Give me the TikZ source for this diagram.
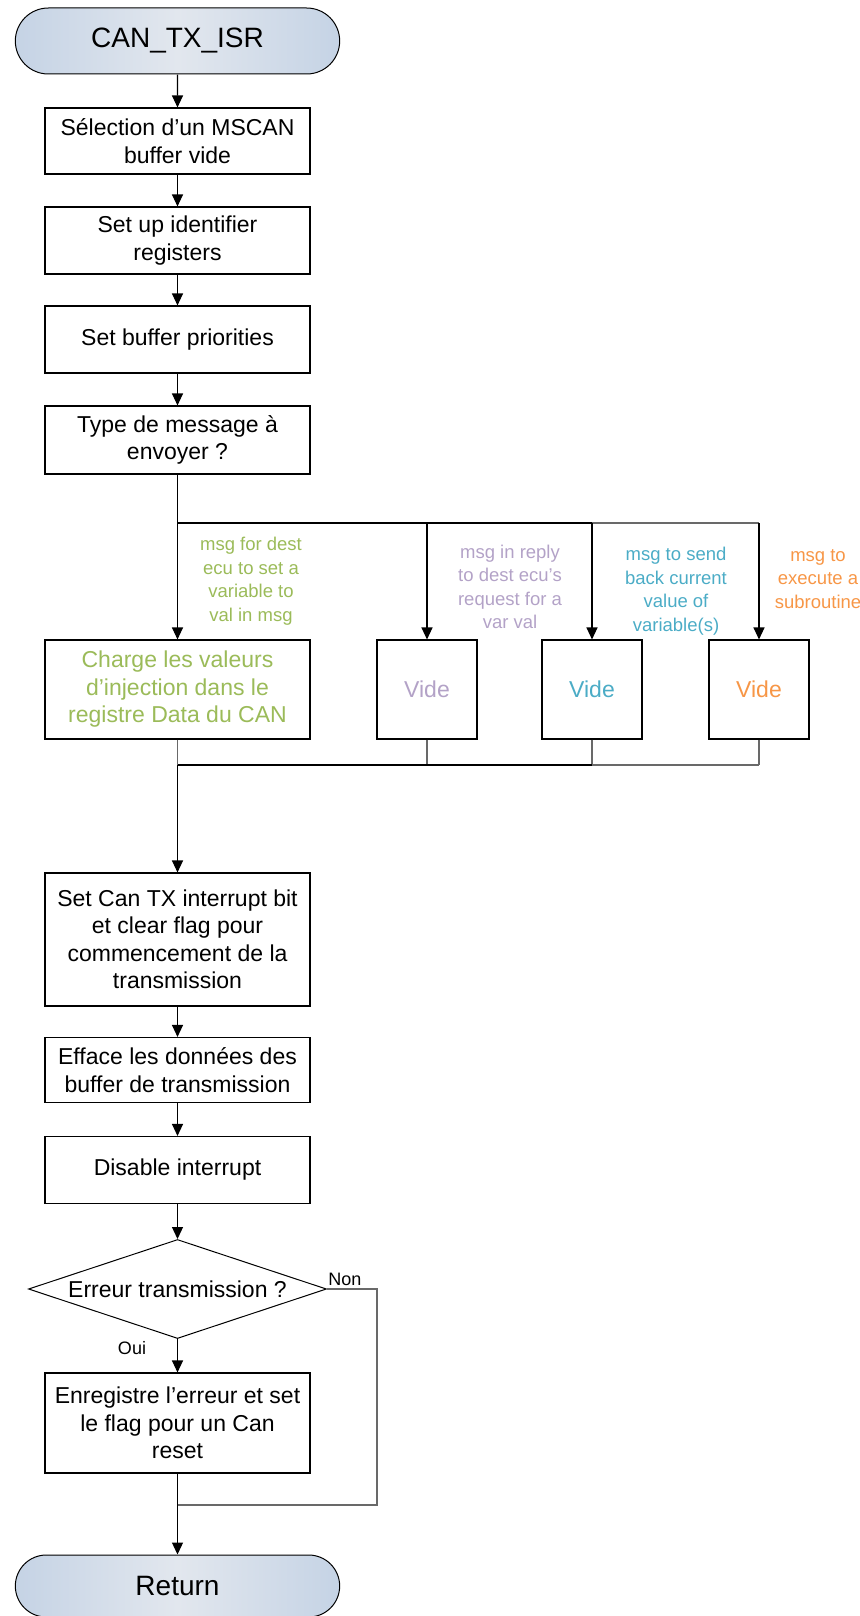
\documentclass[tikz,border=0pt]{standalone}
\usepackage{fontspec}
\setmainfont{Liberation Sans}
\usetikzlibrary{shapes.geometric,shapes.misc,arrows.meta}
\definecolor{cgreen}{HTML}{9BBB59}
\definecolor{cpurple}{HTML}{B3A2C7}
\definecolor{ccyan}{HTML}{4BACC6}
\definecolor{corange}{HTML}{F79646}
\definecolor{termA}{RGB}{197,211,229}
\definecolor{termB}{RGB}{226,231,238}
\definecolor{lgray}{RGB}{105,105,105}
\begin{document}
\begin{tikzpicture}[x=1pt,y=-1pt,
  box/.style={draw=black, line width=1.1pt, fill=white, minimum width=265, align=center,
    font=\fontsize{23}{27.5}\selectfont, inner sep=0pt},
  term/.style={rounded rectangle, draw=black, line width=1pt, minimum width=331, minimum height=66,
    left color=termA, right color=termA, middle color=termB, font=\fontsize{28}{32}\selectfont},
  conn/.style={draw=black, line width=1.2pt},
  conng/.style={draw=lgray, line width=1.2pt},
  arr/.style={conn, -{Triangle[width=11pt,length=12pt]}},
  lab/.style={align=center, font=\fontsize{18.5}{23.5}\selectfont, inner sep=0pt},
  small/.style={font=\fontsize{18}{22}\selectfont, inner sep=0pt},
]
\useasboundingbox (0,0) rectangle (859,1616);

\node[term] (start) at (177.5,41) {CAN\_TX\_ISR};
\node[box, minimum height=66] (b1) at (177.5,141) {Sélection d’un MSCAN\\buffer vide};
\node[box, minimum height=67] (b2) at (177.5,240.5) {Set up identifier\\registers};
\node[box, minimum height=67] (b3) at (177.5,339.5) {Set buffer priorities};
\node[box, minimum height=68] (b4) at (177.5,440) {Type de message à\\envoyer ?};

\node[box, minimum height=99, text=cgreen] (g) at (177.5,689.5) {Charge les valeurs\\d’injection dans le\\registre Data du CAN};
\node[box, minimum width=100, minimum height=99, text=cpurple] (v1) at (427,689.5) {Vide};
\node[box, minimum width=100, minimum height=99, text=ccyan] (v2) at (592,689.5) {Vide};
\node[box, minimum width=100, minimum height=99, text=corange] (v3) at (759,689.5) {Vide};

\node[lab, text=cgreen] (l1) at (251,581) {msg for dest\\ecu to set a\\variable to\\val in msg};
\node[lab, text=cpurple] (l2) at (510,587) {msg in reply\\to dest ecu{\char"27}s\\request for a\\var val};
\node[lab, text=ccyan] (l3) at (676,591) {msg to send\\back current\\value of\\variable(s)};
\node[lab, text=corange] (l4) at (818,579) {msg to\\execute a\\subroutine};

\node[box, minimum height=133] (b5) at (177.5,939.5) {Set Can TX interrupt bit\\et clear flag pour\\commencement de la\\transmission};
\node[box, minimum height=65] (b6) at (177.5,1070) {Efface les données des\\buffer de transmission};
\node[box, minimum height=67] (b7) at (177.5,1170) {Disable interrupt};
\node[diamond, draw=black, line width=1pt, fill=white, minimum width=298, minimum height=99, inner sep=0pt] (d) at (177.5,1289) {};
\node[font=\fontsize{23}{27.5}\selectfont, inner sep=0pt] (dt) at (d.center) {Erreur transmission ?};
\node[box, minimum height=100] (b8) at (177.5,1423) {Enregistre l’erreur et set\\le flag pour un Can\\reset};
\node[term, minimum height=62] (end) at (177.5,1586) {Return};

\node[small] (oui) at (132,1348) {Oui};
\node[small] (non) at (345,1279) {Non};

\coordinate (split) at (177.5,523);
\coordinate (sR) at (759,523);
\coordinate (join) at (177.5,765);
\coordinate (jR) at (759,765);
\coordinate (nonC) at (377,1289);
\coordinate (nonB) at (377,1505);
\coordinate (merge) at (177.5,1505);

\draw[arr] (start) -- (b1);
\draw[arr] (b1) -- (b2);
\draw[arr] (b2) -- (b3);
\draw[arr] (b3) -- (b4);
\draw[conn] (b4.south) -- (split);
\draw[arr] (split) -- (g.north);
\draw[conn] (split) -- (v2.north |- split);
\draw[conng] (v2.north |- split) -- (sR);
\draw[arr] (v1.north |- split) -- (v1.north);
\draw[arr] (v2.north |- split) -- (v2.north);
\draw[arr] (sR) -- (v3.north);

\draw[conng] (g.south) -- (join);
\draw[conng] (v1.south) -- (v1.south |- join);
\draw[conng] (v2.south) -- (v2.south |- join);
\draw[conng] (v3.south) -- (jR);
\draw[conn] (join) -- (v2.south |- join);
\draw[conng] (v2.south |- join) -- (jR);
\draw[arr] (join) -- (b5.north);

\draw[arr] (b5) -- (b6);
\draw[arr] (b6) -- (b7);
\draw[arr] (b7) -- (d.north);
\draw[arr] (d.south) -- (b8.north);
\draw[conng] (d.east) -- (nonC) -- (nonB) -- (merge);
\draw[conn] (b8.south) -- (merge);
\draw[arr] (merge) -- (end.north);
\end{tikzpicture}
\end{document}
